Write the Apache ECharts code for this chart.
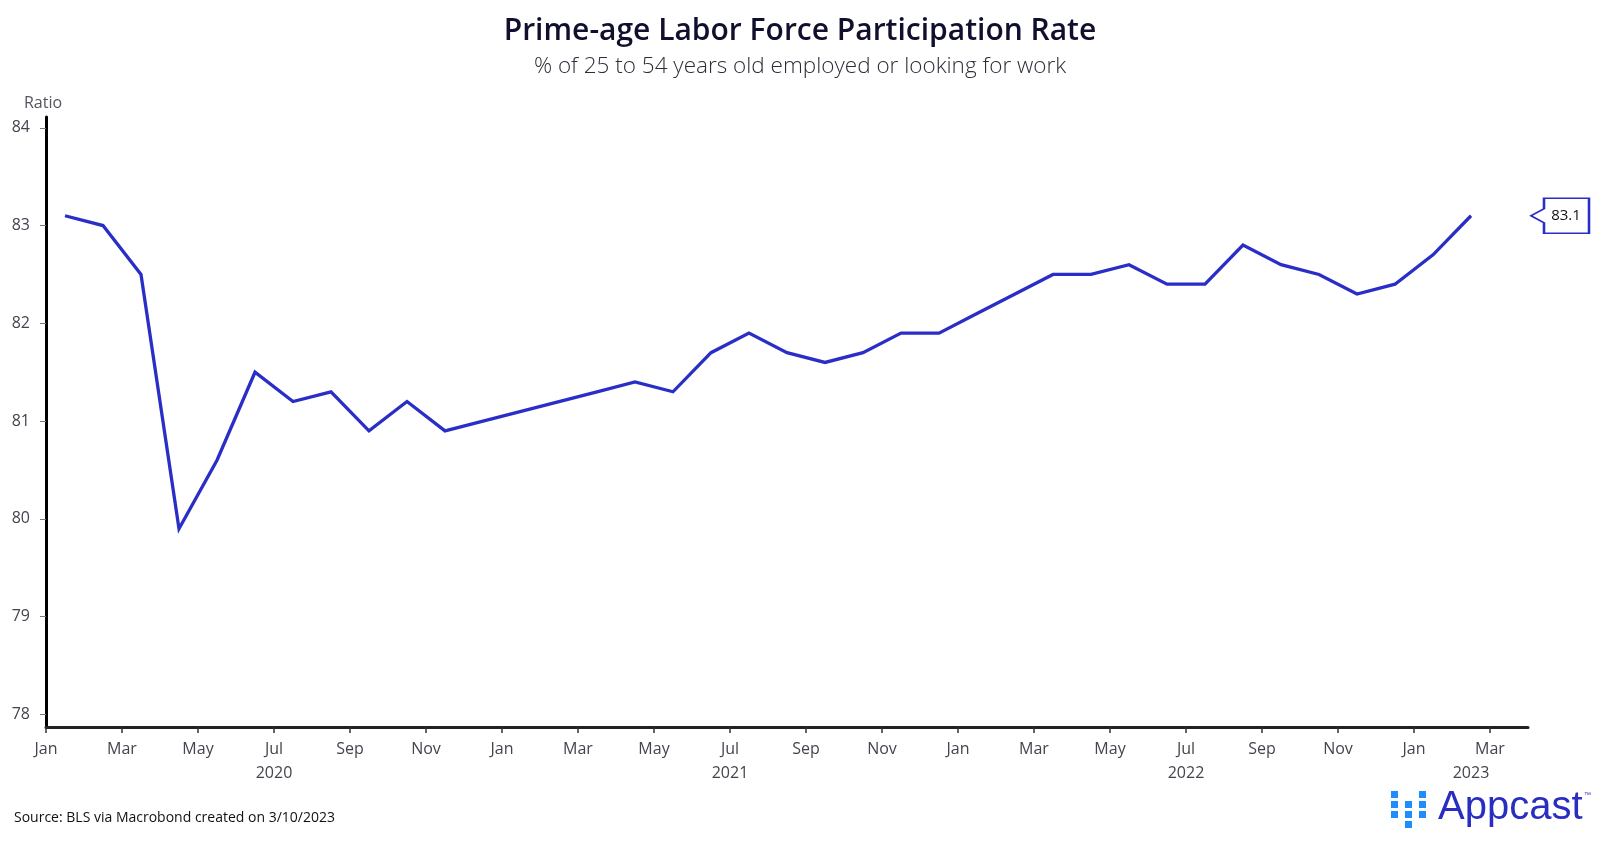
<!DOCTYPE html>
<html>
<head>
<meta charset="utf-8">
<script src="https://cdn.jsdelivr.net/npm/echarts@6/dist/echarts.min.js"></script>
<style>
html,body{margin:0;padding:0;background:#fff;}
#chart{width:1600px;height:841px;}
</style>
</head>
<body>
<div id="chart"></div>
<script>
// Monthly observations, Jan 2020 .. Feb 2023
const startYear = 2020;
const values = [
  83.1, 83.0, 82.5, 79.9, 80.6, 81.5, 81.2, 81.3, 80.9, 81.2, 80.9, 81.0,
  81.1, 81.2, 81.3, 81.4, 81.3, 81.7, 81.9, 81.7, 81.6, 81.7, 81.9, 81.9,
  82.1, 82.3, 82.5, 82.5, 82.6, 82.4, 82.4, 82.8, 82.6, 82.5, 82.3, 82.4,
  82.7, 83.1
];
const monthNames = ['Jan','Feb','Mar','Apr','May','Jun','Jul','Aug','Sep','Oct','Nov','Dec'];
const yTicks = [78, 79, 80, 81, 82, 83, 84];
const yearLabels = ['2020', '2021', '2022', '2023'];
const yearLabelPos = [6, 18, 30, 37.5];   // centre of each year's visible span, in months from Jan 2020
const xMonthsMax = 39;                     // axis runs to Apr 2023

const titleText = 'Prime-age Labor Force Participation Rate';
const subtitleText = '% of 25 to 54 years old employed or looking for work';
const sourceText = 'Source: BLS via Macrobond created on 3/10/2023';

// points plotted at mid-month
const seriesData = values.map((v, i) => [i + 0.5, v]);
const lastPoint = seriesData[seriesData.length - 1];

const FONT = '"Open Sans", "Noto Sans", sans-serif';
const LINE_COLOR = '#2a2ec6';
const TEXT_GREY = '#44444f';
const LOGO_BLUE = '#1f8dfb';

const chart = echarts.init(document.getElementById('chart'), null, {renderer: 'canvas'});

const logoSquares = [];
[[0, 0], [0, 1], [0, 2], [1, 1], [1, 2], [1, 3], [2, 0], [2, 1], [2, 2]].forEach(([c, r]) => {
  logoSquares.push({type: 'rect', shape: {x: c * 14, y: r * 10, width: 7, height: 7}, style: {fill: LOGO_BLUE}});
});

const option = {
  backgroundColor: '#ffffff',
  animation: false,
  title: [
    {
      text: titleText,
      left: 'center', top: 11,
      textStyle: {fontFamily: FONT, fontSize: 30, fontWeight: 600, color: '#10102e'}
    },
    {
      text: subtitleText,
      left: 'center', top: 50,
      textStyle: {fontFamily: FONT, fontSize: 22.5, fontWeight: 300, color: '#2d2d3a'}
    },
    {
      text: sourceText,
      left: 9, top: 806,
      textStyle: {fontFamily: FONT, fontSize: 14, fontWeight: 400, color: '#111'}
    }
  ],
  grid: {left: 46, right: 72, top: 117, bottom: 114, containLabel: false},
  xAxis: [
    {
      type: 'value',
      min: 0, max: xMonthsMax, interval: 2,
      axisLine: {show: true, lineStyle: {color: '#222', width: 3}},
      axisTick: {show: true, length: 6, lineStyle: {color: '#333', width: 1.5}},
      splitLine: {show: false},
      axisLabel: {
        show: true, margin: 14,
        fontFamily: FONT, fontSize: 16, color: TEXT_GREY,
        showMaxLabel: false,
        formatter: v => (v >= xMonthsMax ? '' : monthNames[((v % 12) + 12) % 12])
      }
    },
    {
      type: 'value',
      position: 'bottom',
      min: 0, max: xMonthsMax,
      axisLine: {show: false},
      axisTick: {show: false},
      splitLine: {show: false},
      axisLabel: {
        show: true, margin: 38,
        fontFamily: FONT, fontSize: 16, color: TEXT_GREY,
        customValues: yearLabelPos,
        formatter: v => {
          const idx = yearLabelPos.indexOf(v);
          return idx >= 0 ? yearLabels[idx] : '';
        }
      }
    }
  ],
  yAxis: {
    type: 'value',
    min: 77.872, max: 84.11,
    name: 'Ratio',
    nameLocation: 'end',
    nameGap: 6,
    nameTextStyle: {fontFamily: FONT, fontSize: 16, color: '#55555f', align: 'center', padding: [0, 0, 0, -6]},
    axisLine: {show: true, lineStyle: {color: '#000', width: 3}},
    axisTick: {show: true, length: 6, lineStyle: {color: '#777', width: 1}, customValues: yTicks},
    splitLine: {show: false},
    axisLabel: {
      show: true, margin: 16,
      fontFamily: FONT, fontSize: 16, color: TEXT_GREY,
      customValues: yTicks,
      formatter: v => String(v)
    }
  },
  series: [
    {
      type: 'line',
      data: seriesData,
      xAxisIndex: 0,
      showSymbol: false,
      symbol: 'none',
      clip: false,
      lineStyle: {color: LINE_COLOR, width: 3.3, join: 'miter'},
      markPoint: {
        silent: true,
        data: [{coord: lastPoint, value: lastPoint[1]}],
        symbol: 'path://M0,17.5 L13,10.5 L13,0 L58,0 L58,35 L13,35 L13,24.5 Z',
        symbolSize: [58, 35],
        symbolOffset: [89, 0],
        symbolKeepAspect: false,
        itemStyle: {color: '#ffffff', borderColor: LINE_COLOR, borderWidth: 2},
        label: {
          show: true, position: 'inside', offset: [6, 0],
          fontFamily: FONT, fontSize: 15, color: '#111',
          formatter: p => Number(p.value).toFixed(1)
        }
      }
    }
  ],
  graphic: [
    {type: 'group', left: 1391, top: 791, children: logoSquares},
    {
      type: 'text', left: 1438, top: 788,
      style: {text: 'Appcast', font: '40px "Liberation Sans", Arial, sans-serif', fill: '#2a2ec0'}
    },
    {
      type: 'text', left: 1584, top: 792,
      style: {text: '™', font: '7px "Liberation Sans", Arial, sans-serif', fill: '#2a2ec0'}
    }
  ]
};
chart.setOption(option);
</script>
</body>
</html>
